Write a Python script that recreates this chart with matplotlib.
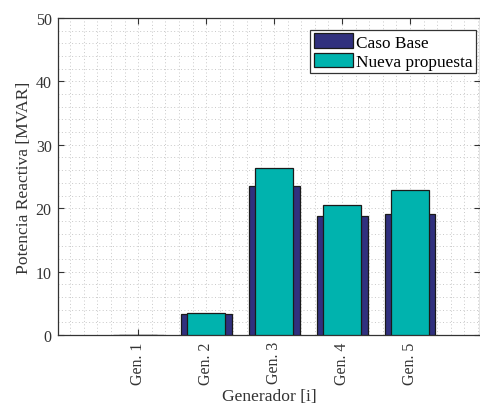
import matplotlib.pyplot as plt
import numpy as np
from matplotlib.ticker import MultipleLocator

generators = ["Gen. 1", "Gen. 2", "Gen. 3", "Gen. 4", "Gen. 5"]
caso_base = [0.0, 3.3, 23.5, 18.8, 19.1]
nueva_propuesta = [0.0, 3.5, 26.3, 20.5, 22.9]

plt.rcParams["font.family"] = ["Liberation Serif", "DejaVu Serif"]
plt.rcParams["font.size"] = 11.5

fig = plt.figure(figsize=(4.81, 4.06), dpi=100)
ax = fig.add_axes([58 / 481, 1 - 336 / 406, 422 / 481, 317 / 406])

x = np.arange(1, len(generators) + 1)
ax.bar(x, caso_base, width=0.75, color="#30307e", edgecolor="#1a1a1a",
       linewidth=0.9, label="Caso Base", zorder=3)
ax.bar(x, nueva_propuesta, width=0.55, color="#00b3ae", edgecolor="#1a1a1a",
       linewidth=0.9, label="Nueva propuesta", zorder=4)

ax.set_xlim(-0.18, 6.03)
ax.set_ylim(0, 50)
ax.set_xticks(x)
ax.set_xticklabels(generators, rotation=90)
ax.set_yticks(np.arange(0, 51, 10))
ax.xaxis.set_minor_locator(MultipleLocator(0.2))
ax.yaxis.set_minor_locator(MultipleLocator(2))

ax.grid(which="both", linestyle=(0, (1, 2.5)), color="#c8c8c8", linewidth=0.7, zorder=0)
ax.tick_params(which="major", direction="in", top=True, right=True, length=4,
               width=0.8, color="#333333", labelcolor="#333333", pad=4.5)
ax.tick_params(which="minor", length=0)
for spine in ax.spines.values():
    spine.set_color("#333333")
    spine.set_linewidth(0.9)

ax.set_xlabel("Generador [i]", fontsize=12.6, color="#333333")
ax.xaxis.set_label_coords(0.5, -0.168)
ax.set_ylabel("Potencia Reactiva [MVAR]", fontsize=12.6, color="#333333", labelpad=3)

leg = ax.legend(loc="upper right", bbox_to_anchor=(0.9905, 0.962), borderaxespad=0,
                fontsize=12.4, fancybox=False, framealpha=1,
                edgecolor="#333333", borderpad=0.2, labelspacing=0.12,
                handlelength=2.3, handleheight=0.9, handletextpad=0.15)
leg.get_frame().set_linewidth(0.9)

fig.savefig("out.png", dpi=100)
